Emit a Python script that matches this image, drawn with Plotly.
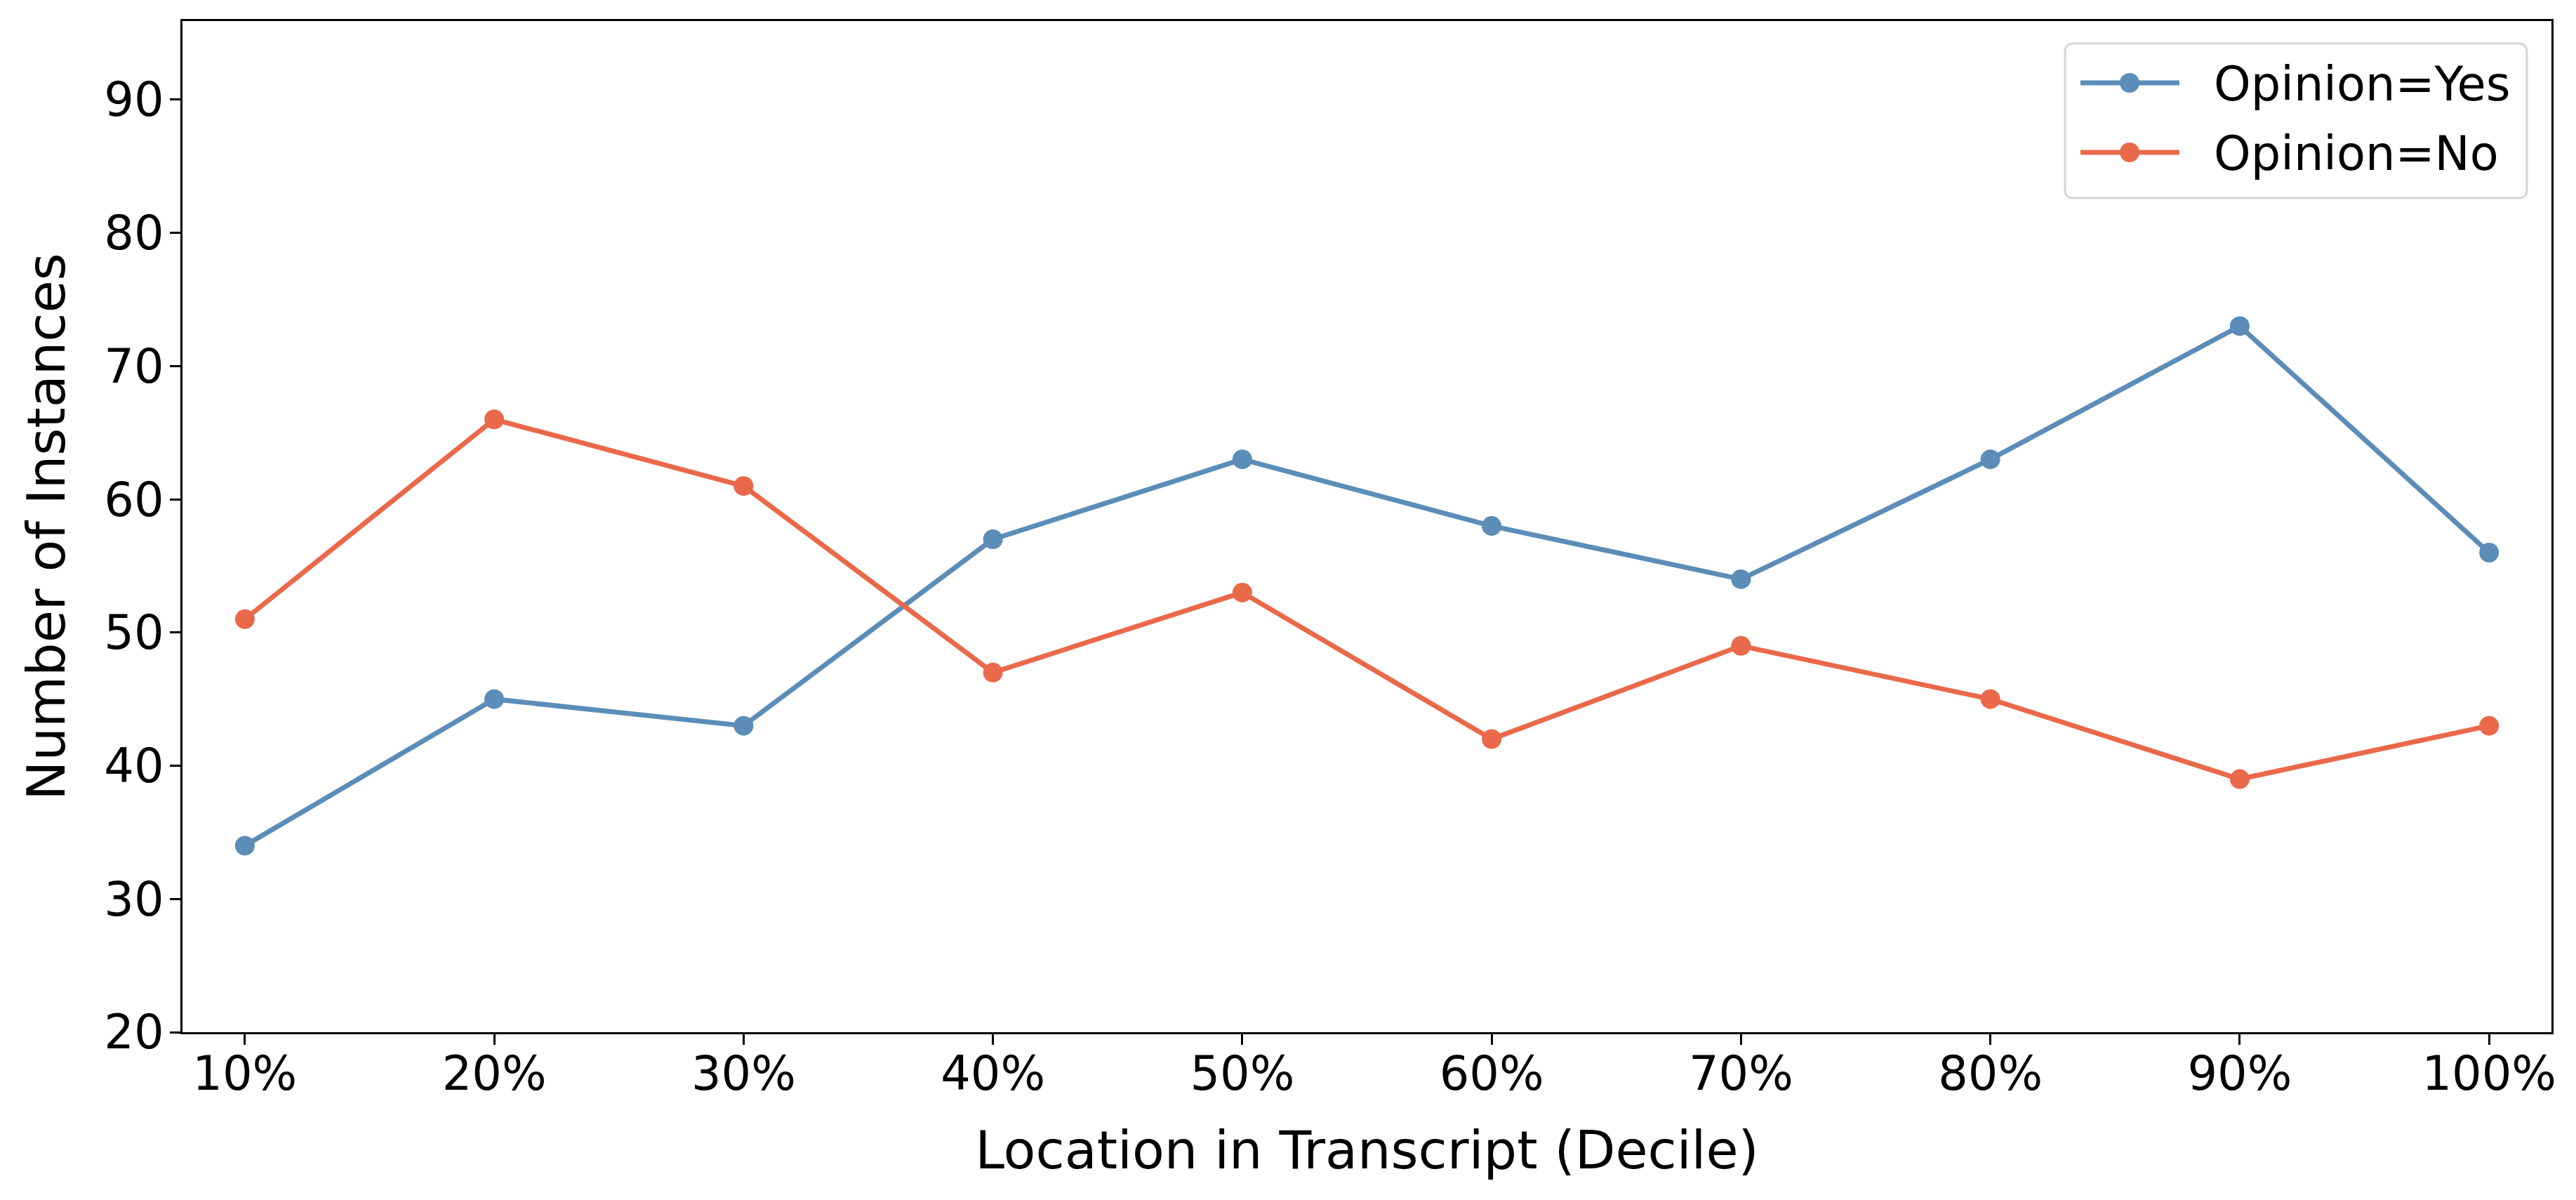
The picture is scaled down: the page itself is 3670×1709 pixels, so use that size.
import plotly.graph_objects as go

deciles = ["10%", "20%", "30%", "40%", "50%", "60%", "70%", "80%", "90%", "100%"]
opinion_yes = [34, 45, 43, 57, 63, 58, 54, 63, 73, 56]
opinion_no = [51, 66, 61, 47, 53, 42, 49, 45, 39, 43]
y_ticks = [20, 30, 40, 50, 60, 70, 80, 90]
series_names = ["Opinion=Yes", "Opinion=No"]

BLUE = "#5B8DB8"
RED = "#E9694A"
FONT = "DejaVu Sans"
W, H = 3670, 1709
OFF = 8  # default page body margin in the browser
ML, MR, MT, MB = 260 - OFF, 35 + OFF, 30 - OFF, 239 + OFF
PW, PH = W - ML - MR, H - MT - MB

xi = list(range(len(deciles)))

fig = go.Figure()
for name, vals, col in [(series_names[0], opinion_yes, BLUE), (series_names[1], opinion_no, RED)]:
    fig.add_trace(go.Scatter(
        x=xi, y=vals, mode="lines+markers", name=name, showlegend=False,
        line=dict(color=col, width=7), marker=dict(color=col, size=28),
    ))

# --- matplotlib-style legend built in paper coordinates (page pixel positions) ---
def px_x(p):
    return (p - (ML + OFF)) / PW

def px_y(p):
    return (MT + OFF + PH - p) / PH

bx0, bx1, by0, by1 = 2942, 3600, 62, 282
r = 12
path = (
    f"M {px_x(bx0 + r)},{px_y(by0)} L {px_x(bx1 - r)},{px_y(by0)} "
    f"Q {px_x(bx1)},{px_y(by0)} {px_x(bx1)},{px_y(by0 + r)} "
    f"L {px_x(bx1)},{px_y(by1 - r)} Q {px_x(bx1)},{px_y(by1)} {px_x(bx1 - r)},{px_y(by1)} "
    f"L {px_x(bx0 + r)},{px_y(by1)} Q {px_x(bx0)},{px_y(by1)} {px_x(bx0)},{px_y(by1 - r)} "
    f"L {px_x(bx0)},{px_y(by0 + r)} Q {px_x(bx0)},{px_y(by0)} {px_x(bx0 + r)},{px_y(by0)} Z"
)
shapes = [dict(type="path", xref="paper", yref="paper", path=path,
               fillcolor="rgba(255,255,255,0.8)", line=dict(color="#D6D6D6", width=3), layer="above")]
annotations = []
rows = [(118, BLUE, series_names[0]), (217, RED, series_names[1])]
for ry, col, name in rows:
    shapes.append(dict(type="line", xref="paper", yref="paper",
                       x0=px_x(2964), x1=px_x(3105), y0=px_y(ry), y1=px_y(ry),
                       line=dict(color=col, width=7), layer="above"))
    shapes.append(dict(type="circle", xref="paper", yref="paper",
                       xsizemode="pixel", ysizemode="pixel",
                       xanchor=px_x(3034), yanchor=px_y(ry),
                       x0=-14, x1=14, y0=-14, y1=14,
                       fillcolor=col, line=dict(color=col, width=0), layer="above"))
    annotations.append(dict(xref="paper", yref="paper", x=px_x(3152), y=px_y(ry + 2),
                            xanchor="left", yanchor="middle", showarrow=False, text=name,
                            font=dict(family=FONT, size=67, color="black")))

fig.update_layout(
    width=W, height=H,
    margin=dict(l=ML, r=MR, t=MT, b=MB),
    paper_bgcolor="white", plot_bgcolor="white",
    font=dict(family=FONT, size=67, color="black"),
    showlegend=False,
    shapes=shapes, annotations=annotations,
)
fig.update_xaxes(
    range=[-0.25, 9.25], tickmode="array", tickvals=xi, ticktext=deciles,
    showgrid=False, zeroline=False, automargin=False,
    showline=True, linecolor="black", linewidth=3, mirror=True,
    ticks="outside", ticklen=15, tickwidth=3, tickcolor="black",
    tickfont=dict(family=FONT, size=67), ticklabelstandoff=-16,
    title=dict(text="Location in Transcript (Decile)", font=dict(family=FONT, size=75), standoff=45),
)
fig.update_yaxes(
    range=[20, 95.9], tickmode="array", tickvals=y_ticks,
    showgrid=False, zeroline=False, automargin=False,
    showline=True, linecolor="black", linewidth=3, mirror=True,
    ticks="outside", ticklen=15, tickwidth=3, tickcolor="black",
    tickfont=dict(family=FONT, size=67), ticklabelstandoff=-5,
    title=dict(text="Number of Instances", font=dict(family=FONT, size=75), standoff=32),
)

fig.write_html("out.html")
